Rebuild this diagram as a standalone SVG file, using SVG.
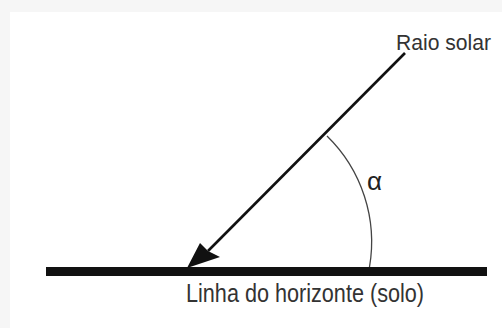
<svg xmlns="http://www.w3.org/2000/svg" width="502" height="328" viewBox="0 0 502 328">
<style>
.lbl{font-family:"Liberation Sans",Arial,sans-serif;fill:#333}
</style>
<rect x="0" y="0" width="502" height="328" fill="#f6f6f6"/>
<rect x="10" y="12" width="492" height="316" fill="#ffffff"/>
<g id="ground">
<rect x="46" y="267" width="441" height="9" fill="#111"/>
<text class="lbl" x="186" y="301.5" font-size="26" textLength="238" lengthAdjust="spacingAndGlyphs">Linha do horizonte (solo)</text>
</g>
<g id="angle">
<path d="M 327 136 A 148 148 0 0 1 369.5 267" fill="none" stroke="#444" stroke-width="1.3"/>
<text x="367" y="190" font-family="'Liberation Sans',Arial,sans-serif" font-size="26" fill="#222">α</text>
</g>
<g id="connectors">
<line x1="405" y1="53" x2="208" y2="251" stroke="#111" stroke-width="2.6"/>
<polygon points="187,268 200,243 208,251 220,257" fill="#111"/>
</g>
<g id="ray-label">
<text class="lbl" x="396" y="50" font-size="22" textLength="95" lengthAdjust="spacingAndGlyphs">Raio solar</text>
</g>
</svg>
